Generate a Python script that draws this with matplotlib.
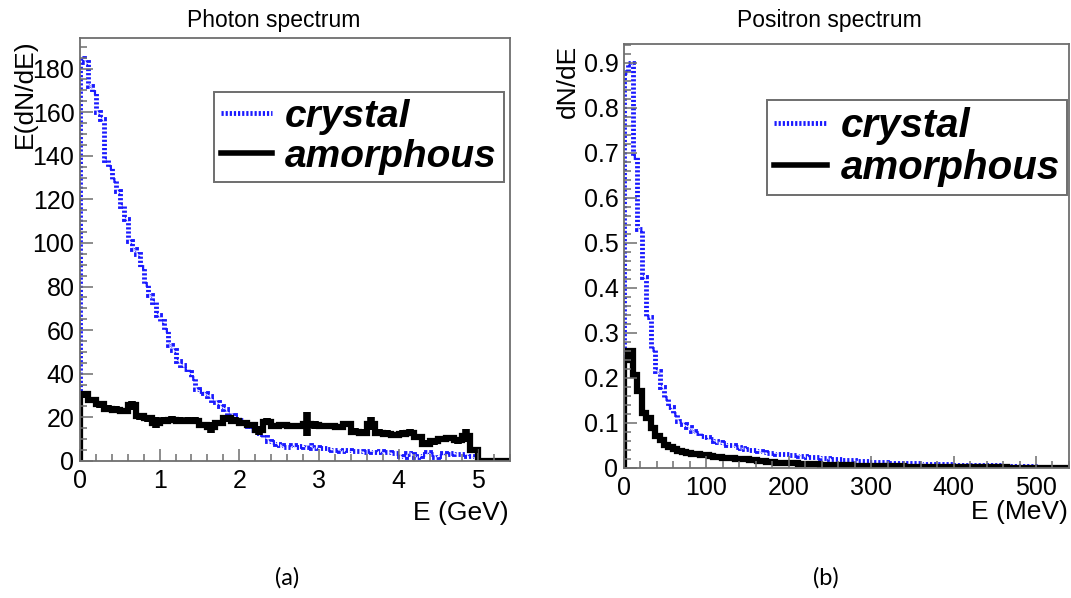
import numpy as np
import matplotlib
matplotlib.use("Agg")
import matplotlib.pyplot as plt
from matplotlib.lines import Line2D
from matplotlib.ticker import MultipleLocator, FuncFormatter

plt.rcParams["font.family"] = ["Liberation Sans", "DejaVu Sans"]

# photon spectrum, E in GeV
photon_range = (0.0, 5.4)
photon_crystal = [
    185, 183, 172, 169, 160, 157, 138, 135, 129, 124,
    117, 111, 101, 97, 95, 89, 81, 76, 73, 67,
    64, 60, 53, 51, 46, 44, 42, 41, 38, 33,
    32, 31, 30, 28, 27, 25, 24, 22, 21, 20,
    19, 17, 16, 14, 13, 12.5, 11, 9, 8.5, 8,
    7.5, 6.5, 6.5, 7.5, 6.5, 7, 6.5, 7.5, 6, 6.5,
    6, 6, 5.5, 5, 5, 4.5, 5, 5, 4.5, 4.5,
    4.5, 4, 4.5, 4, 4, 4.5, 4, 4, 3.5, 3.5,
    2.5, 2, 3.5, 3, 2, 2.5, 3, 4, 3, 2,
    2.5, 3.5, 3, 3.5, 3, 3, 3, 2.5, 2.5, 1.5,
    0, 0, 0, 0, 0, 0, 0, 0,
]
photon_amorphous = [
    30.5, 28, 26, 24, 23.5, 23, 25.5, 20.5, 19.5, 17.5,
    18.5, 19, 18.5, 18.5, 18.5, 16.5, 15.5, 17.5, 19.5, 18.5,
    17.5, 16.5, 14, 18, 16, 16.5, 16, 16, 17, 16.5,
    16, 16, 15.5, 17, 13.5, 13, 17, 13, 12.5, 12,
    12.5, 13, 11, 8, 9, 10, 10.5, 9.5, 11.5, 5,
    0, 0, 0, 0,
]
photon_amorphous_err = [
    1.5, 1.5, 1.5, 1.5, 1.5, 1.5, 2, 1.5, 1.5, 2.5,
    1.5, 1.5, 1.5, 1.5, 1.5, 1.5, 2.5, 1.5, 1.5, 1.5,
    1.5, 1.5, 2, 1.5, 1.5, 1.5, 1.5, 1.5, 5.5, 2,
    1.5, 1.5, 1.5, 1.5, 1.5, 1.5, 3, 1.5, 1.5, 1.5,
    1.5, 1.5, 1.5, 1.5, 1.5, 1.5, 1.5, 1.5, 3, 1.5,
    0, 0, 0, 0,
]

# positron spectrum, E in MeV
positron_range = (0.0, 540.0)
positron_crystal = [
    0.88, 0.90, 0.69, 0.53, 0.425, 0.335, 0.265, 0.215, 0.18, 0.155,
    0.135, 0.12, 0.105, 0.097, 0.09, 0.083, 0.077, 0.072, 0.068, 0.064,
    0.061, 0.058, 0.055, 0.052, 0.05, 0.047, 0.045, 0.043, 0.041, 0.04,
    0.038, 0.036, 0.034, 0.033, 0.032, 0.031, 0.03, 0.029, 0.028, 0.027,
    0.026, 0.025, 0.024, 0.024, 0.023, 0.022, 0.021, 0.02, 0.019, 0.018,
    0.018, 0.017, 0.016, 0.016, 0.015, 0.014, 0.014, 0.013, 0.013, 0.012,
    0.012, 0.011, 0.011, 0.011, 0.010, 0.010, 0.010, 0.009, 0.009, 0.009,
    0.008, 0.008, 0.008, 0.008, 0.007, 0.007, 0.007, 0.007, 0.007, 0.006,
    0.006, 0.006, 0.006, 0.006, 0.006, 0.005, 0.005, 0.005, 0.005, 0.005,
    0.005, 0.005, 0.004, 0, 0, 0, 0, 0, 0, 0,
]
positron_amorphous = [
    0.24, 0.26, 0.207, 0.17, 0.122, 0.112, 0.089, 0.072, 0.062, 0.052,
    0.046, 0.043, 0.038, 0.035, 0.033, 0.032, 0.031, 0.029, 0.028, 0.027,
    0.025, 0.024, 0.023, 0.022, 0.022, 0.021, 0.02, 0.019, 0.018, 0.017,
    0.016, 0.015, 0.014, 0.013, 0.012, 0.011, 0.011, 0.010, 0.010, 0.009,
    0.009, 0.008, 0.008, 0.008, 0.007, 0.007, 0.007, 0.006, 0.006, 0.006,
    0.006, 0.005, 0.005, 0.005, 0.005, 0.005, 0.004, 0.004, 0.004, 0.004,
    0.004, 0.004, 0.004, 0.003, 0.003, 0.003, 0.003, 0.003, 0.003, 0.003,
    0.003, 0.003, 0.002, 0.002, 0.002, 0.002, 0.002, 0.002, 0.002, 0.002,
    0.002, 0.002, 0.002, 0.002, 0.002, 0.002, 0.001, 0.001, 0.001, 0.001,
    0.001, 0.001, 0.001, 0, 0, 0, 0, 0, 0, 0,
]

labels = ["crystal", "amorphous"]
BLUE = "#1a1aff"
DOTS = (0, (0.45, 0.4))
FRAME = "#6e6e6e"


def bin_edges(rng, values):
    return np.linspace(rng[0], rng[1], len(values) + 1)


def style_axes(ax):
    for s in ax.spines.values():
        s.set_color(FRAME)
        s.set_linewidth(1.3)
    ax.tick_params(which="both", direction="in", top=False, right=False,
                   color=FRAME, labelcolor="black", labelsize=18, width=1.1)
    ax.tick_params(which="major", length=9, pad=4)
    ax.tick_params(which="minor", length=5)
    ax.xaxis.set_tick_params(pad=6)
    fmt = FuncFormatter(lambda v, _: f"{v:g}")
    ax.xaxis.set_major_formatter(fmt)
    ax.yaxis.set_major_formatter(fmt)


def add_legend(ax, anchor, size):
    handles = [Line2D([], [], color=BLUE, lw=3.5, linestyle=DOTS),
               Line2D([], [], color="black", lw=4)]
    leg = ax.legend(handles, labels, loc="upper left", bbox_to_anchor=anchor,
                    bbox_transform=ax.figure.transFigure, borderaxespad=0,
                    prop={"weight": "bold", "style": "italic", "size": size},
                    handlelength=1.3, handletextpad=0.35, borderpad=0.18,
                    labelspacing=0.1, fancybox=False, framealpha=1)
    leg.get_frame().set_edgecolor(FRAME)
    leg.get_frame().set_linewidth(1.4)


fig = plt.figure(figsize=(10.71, 5.98), dpi=100)

# (a) photon spectrum
ax1 = fig.add_axes([0.0747, 0.2291, 0.4015, 0.7074])
e_cry = bin_edges(photon_range, photon_crystal)
e_amo = bin_edges(photon_range, photon_amorphous)
ax1.stairs(photon_crystal, e_cry, color=BLUE, lw=3.5, linestyle=DOTS)
ax1.stairs(photon_amorphous, e_amo, color="black", lw=4.5)
centers = 0.5 * (e_amo[:-1] + e_amo[1:])
ax1.errorbar(centers, photon_amorphous, yerr=photon_amorphous_err, fmt="none",
             ecolor="black", elinewidth=5.5, capsize=0)
ax1.set_xlim(*photon_range)
ax1.set_ylim(0, 194)
ax1.xaxis.set_major_locator(MultipleLocator(1))
ax1.xaxis.set_minor_locator(MultipleLocator(0.2))
ax1.yaxis.set_major_locator(MultipleLocator(20))
ax1.yaxis.set_minor_locator(MultipleLocator(5))
style_axes(ax1)
add_legend(ax1, (214 / 1071, 1 - 92 / 598), 28)

# (b) positron spectrum
ax2 = fig.add_axes([0.5826, 0.2174, 0.4155, 0.709])
p_cry = bin_edges(positron_range, positron_crystal)
p_amo = bin_edges(positron_range, positron_amorphous)
ax2.stairs(positron_crystal, p_cry, color=BLUE, lw=3.5, linestyle=DOTS)
ax2.stairs(positron_amorphous, p_amo, color="black", lw=4.5)
ax2.set_xlim(*positron_range)
ax2.set_ylim(0, 0.942)
ax2.xaxis.set_major_locator(MultipleLocator(100))
ax2.xaxis.set_minor_locator(MultipleLocator(20))
ax2.yaxis.set_major_locator(MultipleLocator(0.1))
ax2.yaxis.set_minor_locator(MultipleLocator(0.02))
style_axes(ax2)
add_legend(ax2, (767 / 1071, 1 - 100 / 598), 29)

# titles and axis labels, placed like the ROOT canvas
W, H = 1071, 598
fig.text(274 / W, 1 - 21 / H, "Photon spectrum", ha="center", va="center", fontsize=16.5)
fig.text(829 / W, 1 - 21 / H, "Positron spectrum", ha="center", va="center", fontsize=16.5)
fig.text(25 / W, 1 - 39 / H, "E(dN/dE)", rotation=90, ha="center", va="top", fontsize=19)
fig.text(568 / W, 1 - 45 / H, "dN/dE", rotation=90, ha="center", va="top", fontsize=19)
fig.text(509 / W, 1 - 513 / H, "E (GeV)", ha="right", va="center", fontsize=19)
fig.text(1068 / W, 1 - 512 / H, "E (MeV)", ha="right", va="center", fontsize=19)
fig.text(287 / W, 1 - 578 / H, "(a)", ha="center", va="center", fontsize=17, family="Lato")
fig.text(826 / W, 1 - 578 / H, "(b)", ha="center", va="center", fontsize=17, family="Lato")

fig.savefig("out.png", dpi=100)
